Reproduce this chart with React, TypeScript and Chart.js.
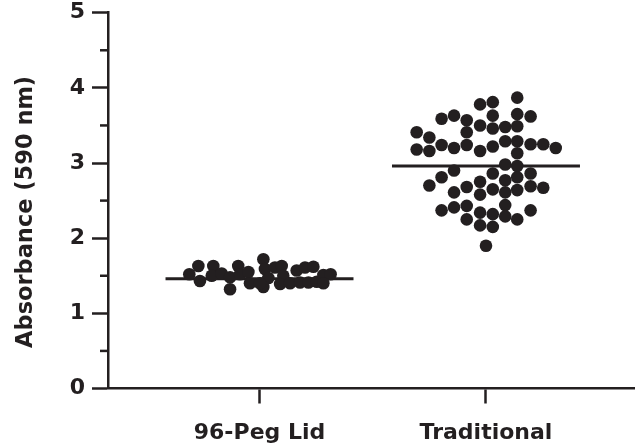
import React, { useEffect, useRef } from "react";
import { Chart, registerables } from "chart.js";

Chart.register(...registerables);

// ---- data ----
const categories = ["96-Peg Lid", "Traditional"];
const yTickValues = [0, 1, 2, 3, 4, 5];
const yMinorTickValues = [0.5, 1.5, 2.5, 3.5, 4.5];
const yAxisTitle = "Absorbance (590 nm)";

// 96-Peg Lid: horizontal jitter (category units) and absorbance
const pegOffsets = [
  -0.31, -0.27, -0.263, -0.204, -0.211, -0.167, -0.13, -0.13, -0.094, -0.086,
  -0.049, -0.042, 0.017, 0.024, 0.039, 0.017, 0.068, 0.098, 0.105, 0.091,
  0.135, 0.164, 0.201, 0.238, 0.179, 0.216, 0.253, 0.282, 0.314, 0.282, 0.002,
];
const pegValues = [
  1.52, 1.63, 1.43, 1.63, 1.5, 1.53, 1.32, 1.48, 1.63, 1.52,
  1.55, 1.4, 1.72, 1.59, 1.47, 1.35, 1.61, 1.63, 1.5, 1.39,
  1.4, 1.57, 1.61, 1.62, 1.41, 1.41, 1.42, 1.51, 1.52, 1.4, 1.4,
];

// Traditional
const tradOffsets = [
  -0.306, -0.306,
  -0.25, -0.25, -0.25,
  -0.196, -0.196, -0.196, -0.196,
  -0.141, -0.141, -0.141, -0.141, -0.141,
  -0.085, -0.085, -0.085, -0.085, -0.085, -0.085,
  -0.026, -0.026, -0.026, -0.026, -0.026, -0.026, -0.026,
  0,
  0.03, 0.03, 0.03, 0.03, 0.03, 0.03, 0.03, 0.03,
  0.085, 0.085, 0.085, 0.085, 0.085, 0.085, 0.085,
  0.138, 0.138, 0.138, 0.138, 0.138, 0.138, 0.138, 0.138, 0.138,
  0.197, 0.197, 0.197, 0.197, 0.197,
  0.253, 0.253,
  0.308,
];
const tradValues = [
  3.41, 3.18,
  3.34, 3.16, 2.7,
  3.59, 3.24, 2.81, 2.37,
  3.63, 3.2, 2.9, 2.61, 2.41,
  3.57, 3.41, 3.24, 2.68, 2.43, 2.25,
  3.78, 3.5, 3.16, 2.75, 2.58, 2.34, 2.17,
  1.9,
  3.81, 3.63, 3.46, 3.22, 2.86, 2.65, 2.32, 2.15,
  3.48, 3.29, 2.98, 2.77, 2.61, 2.44, 2.29,
  3.87, 3.65, 3.49, 3.29, 3.13, 2.96, 2.81, 2.64, 2.25,
  3.62, 3.25, 2.86, 2.69, 2.37,
  3.25, 2.67,
  3.2,
];

const means = [1.46, 2.96];
const meanHalfWidth = 0.415;

const INK = "#231f20";
const FAMILY = "'DejaVu Sans', sans-serif";
const FONT = { family: FAMILY, weight: "bold" as const, size: 22 };

const minorTicksPlugin = {
  id: "minorTicks",
  afterDraw(chart: any) {
    const y = chart.scales.y;
    const ctx = chart.ctx;
    const left = chart.chartArea.left;
    ctx.save();
    ctx.strokeStyle = INK;
    ctx.lineWidth = 2.5;
    for (const v of yMinorTickValues) {
      const py = y.getPixelForValue(v);
      ctx.beginPath();
      ctx.moveTo(left - 8, py);
      ctx.lineTo(left, py);
      ctx.stroke();
    }
    ctx.restore();
  },
};

// y-axis title, centred a little below the middle of the axis as in the original figure
const yTitlePlugin = {
  id: "yTitle",
  afterDraw(chart: any) {
    const y = chart.scales.y;
    const ctx = chart.ctx;
    const cy = y.getPixelForValue(2.35);
    ctx.save();
    ctx.translate(26, cy);
    ctx.rotate(-Math.PI / 2);
    ctx.fillStyle = INK;
    ctx.font = `bold 22.5px ${FAMILY}`;
    ctx.textAlign = "center";
    ctx.textBaseline = "middle";
    ctx.fillText(yAxisTitle, 0, 0);
    ctx.restore();
  },
};

export default function App() {
  const ref = useRef<HTMLCanvasElement | null>(null);

  useEffect(() => {
    if (!ref.current) return;
    const pegPoints = pegOffsets.map((o, i) => ({ x: 1 + o, y: pegValues[i] }));
    const tradPoints = tradOffsets.map((o, i) => ({ x: 2 + o, y: tradValues[i] }));
    const meanLines = means.map((m, i) => ({
      type: "line" as const,
      data: [
        { x: i + 1 - meanHalfWidth, y: m },
        { x: i + 1 + meanHalfWidth, y: m },
      ],
      borderColor: INK,
      borderWidth: 3,
      pointRadius: 0,
      showLine: true,
      fill: false,
    }));
    const pointStyle = {
      backgroundColor: INK,
      borderWidth: 0,
      pointRadius: 6.3,
      pointHoverRadius: 6.3,
    };
    const chart = new Chart(ref.current, {
      type: "scatter",
      data: {
        datasets: [
          { data: pegPoints, ...pointStyle },
          { data: tradPoints, ...pointStyle },
          ...meanLines,
        ] as any,
      },
      plugins: [minorTicksPlugin, yTitlePlugin],
      options: {
        animation: false,
        responsive: false,
        devicePixelRatio: 1,
        layout: { autoPadding: false, padding: { top: 12.7, right: 0, left: 0, bottom: 0 } },
        plugins: { legend: { display: false }, tooltip: { enabled: false } },
        scales: {
          x: {
            type: "linear",
            min: 0.331,
            max: 2.658,
            afterBuildTicks: (s: any) => {
              s.ticks = categories.map((_, i) => ({ value: i + 1 }));
            },
            afterFit: (s: any) => {
              s.height = 57.5;
            },
            ticks: {
              autoSkip: false,
              maxRotation: 0,
              color: INK,
              font: FONT,
              padding: 17,
              callback: (v: any) => categories[Math.round(v) - 1] ?? "",
            },
            grid: { drawOnChartArea: false, tickLength: 15, tickWidth: 2.5, tickColor: INK },
            border: { display: true, width: 2.5, color: INK },
          },
          y: {
            min: 0,
            max: 5,
            afterBuildTicks: (s: any) => {
              s.ticks = yTickValues.map((v) => ({ value: v }));
            },
            afterFit: (s: any) => {
              s.width = 108;
            },
            ticks: { color: INK, font: { ...FONT, lineHeight: 0.5 }, padding: 7 },
            grid: { drawOnChartArea: false, tickLength: 16, tickWidth: 2.5, tickColor: INK },
            border: { display: true, width: 2.5, color: INK },
            title: { display: false, text: yAxisTitle },
          },
        },
      } as any,
    });
    return () => chart.destroy();
  }, []);

  return (
    <div style={{ position: "absolute", left: 0, top: 0, width: 635, height: 446, background: "#fff" }}>
      <canvas ref={ref} width={635} height={446} />
    </div>
  );
}
